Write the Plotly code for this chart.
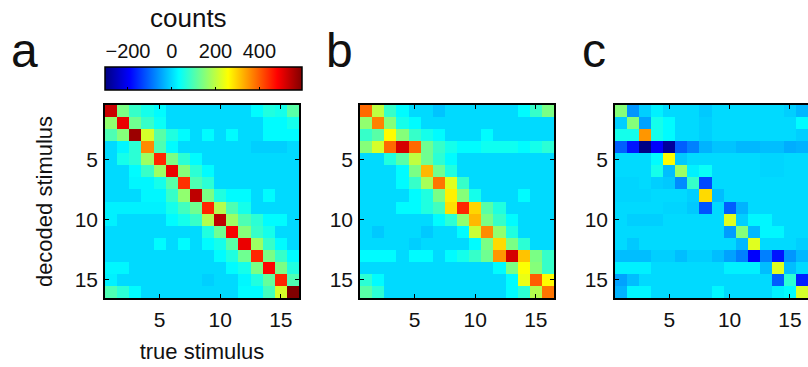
import plotly.graph_objects as go

W, H = 808, 367

stimuli = list(range(1, 17))
tick_vals = [5, 10, 15]
cbar_ticks = [-200, 0, 200, 400]
cbar_ticktext = ["\u2212200", "0", "200", "400"]
cmin, cmax = -305, 595

panel_a = [
    [530, 140, 80, 50, 30, 0, 0, 0, 0, 0, 0, 0, 30, 60, 50, 110],
    [160, 500, 130, 80, 40, 0, 0, 0, 0, 0, 0, 0, 0, 30, 30, 50],
    [100, 150, 570, 220, 110, 60, 30, 0, 30, 0, 30, 0, 0, 30, 30, 30],
    [0, 25, 70, 360, 100, 30, 0, 0, 0, 0, 0, 0, -10, -10, -10, 0],
    [0, 50, 70, 170, 450, 140, 70, 30, 0, 0, 0, 0, 0, 0, 0, 0],
    [0, 0, 30, 80, 170, 500, 150, 70, 30, 0, 0, 0, 0, 0, 0, 0],
    [0, 0, 25, 25, 50, 110, 440, 100, 70, 0, 0, 0, 0, 0, 0, 0],
    [0, 0, 0, 25, 25, 80, 160, 540, 140, 60, 30, 30, 0, 30, 0, 0],
    [20, 20, 20, 20, 20, 50, 90, 130, 450, 190, 100, 50, 0, 0, 0, 0],
    [20, 0, 0, 0, 0, 30, 50, 80, 190, 540, 170, 100, 70, 30, 30, 0],
    [0, 0, 0, 0, 0, 0, 0, 0, 60, 130, 490, 150, 80, 50, 0, 0],
    [0, 0, 0, 0, 30, 0, 30, 0, 30, 50, 110, 500, 170, 80, 30, 0],
    [0, 0, 0, 0, 0, 0, 0, 0, 0, 30, 60, 130, 450, 140, 80, 30],
    [25, 25, 0, 0, 0, 0, 0, 0, 0, 0, 30, 50, 140, 480, 140, 60],
    [20, 0, 0, 0, 0, 0, 0, 0, -10, 0, 0, 25, 60, 120, 450, 100],
    [100, 70, 30, 0, 0, 0, 0, 0, 0, 0, 0, 30, 30, 90, 220, 595],
]

panel_b = [
    [390, 200, 80, 30, 0, 0, -20, 0, 0, 0, 0, 0, 0, 30, 80, 140],
    [160, 370, 150, 50, 30, 0, 0, 0, 0, 0, 0, 0, 0, 0, 0, 0],
    [80, 110, 260, 150, 80, 50, 30, 0, 0, 0, 30, 0, 0, 0, 0, 0],
    [150, 220, 390, 520, 390, 130, 80, 50, 30, 30, 45, 45, 45, 30, 50, 70],
    [0, 0, 60, 110, 200, 130, 70, 30, 0, 0, 0, 0, 0, 0, 0, 0],
    [0, 0, 0, 30, 140, 320, 130, 60, 0, 0, 0, 0, 0, 0, 0, 0],
    [0, 0, 0, 30, 80, 180, 380, 230, 80, 0, 0, 0, 0, 0, 0, 0],
    [0, 0, 0, 0, 30, 60, 140, 270, 150, 50, 0, 0, 0, 30, 0, 0],
    [0, 0, 0, 30, 30, 60, 90, 285, 450, 295, 110, 60, 0, 0, 0, 0],
    [0, 0, 0, 0, 0, 0, 30, 70, 160, 320, 140, 80, 30, 0, 0, 0],
    [0, -15, 0, 0, 0, -15, 0, 0, 30, 210, 360, 160, 60, 0, 0, 0],
    [0, 0, 0, 0, -10, 0, 0, 0, 0, 30, 140, 290, 140, 70, 0, 0],
    [30, 30, 30, 0, 30, 30, 0, 30, 50, 80, 130, 350, 520, 310, 140, 80],
    [0, 0, 0, 0, 0, 0, 0, 0, 0, 0, 0, 30, 140, 255, 150, 80],
    [70, 30, 0, 0, 0, 0, 0, 0, 0, 0, 0, 0, 30, 240, 400, 260],
    [110, 70, 0, 0, 0, 0, 0, 0, 0, 0, 0, 0, 30, 70, 190, 380],
]

panel_c = [
    [150, -60, -10, 20, 0, 0, 0, -15, 0, 0, 0, 0, 0, 0, -10, -30],
    [-10, 150, -50, 50, 30, 0, 0, -10, 0, 0, 0, 0, 0, 0, 0, 30],
    [50, 50, 350, 50, 30, 0, 0, -10, 0, 0, 0, 0, 0, 0, 0, -10],
    [-110, -175, -300, -195, -280, -110, -80, -35, -20, -20, -30, -30, -25, -25, -40, -35],
    [0, 0, 0, 30, 260, -15, 0, 0, 0, 0, 0, 0, -5, -5, 0, 0],
    [0, 0, 0, 50, -25, 170, 20, 40, 0, 0, 0, 0, -5, -5, 0, 0],
    [-5, -5, 0, -10, -15, -70, 80, -130, 0, 0, 0, 0, 0, 0, 0, 0],
    [-5, -5, -5, 0, 0, 0, -10, 290, -25, 0, 0, 0, 0, 0, 0, 0],
    [0, 0, 0, 0, -5, -5, -15, -120, 0, -110, -35, 0, 0, 0, 0, 0],
    [0, -10, -10, -10, 0, 0, 0, 0, 0, 230, -10, 25, 25, 0, 0, 0],
    [0, 0, 0, 0, 0, 0, 0, 0, 0, -55, 150, -30, 25, 25, 0, 0],
    [0, -15, 0, 0, 0, 0, 0, 0, 0, 0, -30, 230, 0, 0, 0, -10],
    [-25, -25, -25, -10, -10, -25, -10, -10, -25, -50, -80, -195, -80, -175, -60, -30],
    [20, 20, 20, 0, 0, 0, 0, 0, 0, 20, 20, 20, -25, 230, -25, 0],
    [-50, -25, 0, 0, 0, 0, 0, 0, 0, 0, 0, 0, 0, -110, 70, -165],
    [-35, 25, 25, 0, 0, 0, 0, 0, 25, 0, 0, 0, 0, 20, 30, 220],
]

panels = [("a", panel_a), ("b", panel_b), ("c", panel_c)]

jet = [
    [0.0, "rgb(0,0,128)"],
    [0.125, "rgb(0,0,255)"],
    [0.375, "rgb(0,255,255)"],
    [0.625, "rgb(255,255,0)"],
    [0.875, "rgb(255,0,0)"],
    [1.0, "rgb(128,0,0)"],
]

FONT = "Liberation Sans, Arial, Helvetica, sans-serif"
TXT = "#111111"

def px(x):
    """pixel x -> paper fraction"""
    return min(max(x / W, 0.0), 1.0)

def py(y):
    """pixel y (from top) -> paper fraction"""
    return min(max(1 - y / H, 0.0), 1.0)

x_domains = [[px(105), px(299)], [px(360), px(554)], [px(615), 1.0]]
y_domain = [py(298), py(105)]

fig = go.Figure()

for i, (name, z) in enumerate(panels):
    sfx = "" if i == 0 else str(i + 1)
    fig.add_trace(go.Heatmap(
        z=z, x=stimuli, y=stimuli, coloraxis="coloraxis",
        xaxis="x" + sfx, yaxis="y" + sfx,
        hovertemplate="true %{x}<br>decoded %{y}<br>%{z}<extra></extra>",
    ))

axis_common = dict(
    showline=True, linecolor="black", linewidth=1.5,
    ticks="inside", ticklen=4, tickwidth=1, tickcolor="black",
    tickvals=tick_vals, showgrid=False, zeroline=False,
    tickfont=dict(family=FONT, size=21, color=TXT),
)

layout = dict(
    width=W, height=H,
    margin=dict(l=0, r=0, t=0, b=0),
    paper_bgcolor="white", plot_bgcolor="white",
    showlegend=False,
    font=dict(family=FONT, color=TXT),
    coloraxis=dict(
        colorscale=jet, cmin=cmin, cmax=cmax,
        colorbar=dict(
            orientation="h",
            x=px(105), xanchor="left",
            y=py(67), yanchor="top",
            len=197, lenmode="pixels",
            thickness=23, thicknessmode="pixels",
            xpad=0, ypad=0,
            outlinewidth=1.5, outlinecolor="black",
            ticks="inside", ticklen=3, tickcolor="black",
            tickvals=cbar_ticks, showticklabels=False,
        ),
    ),
)

for i in range(3):
    sfx = "" if i == 0 else str(i + 1)
    layout["xaxis" + sfx] = dict(
        axis_common, domain=x_domains[i], range=[0.5, 16.5],
        anchor="y" + sfx, mirror="ticks", ticklabelstandoff=2,
    )
    layout["yaxis" + sfx] = dict(
        axis_common, domain=y_domain, range=[16.5, 0.5],
        anchor="x" + sfx, mirror=("ticks" if i < 2 else False),
        ticklabelstandoff=1,
    )

layout["xaxis"]["title"] = dict(text="true stimulus", font=dict(size=22, family=FONT, color=TXT), standoff=14)
layout["yaxis"]["title"] = dict(text="decoded stimulus", font=dict(size=22, family=FONT, color=TXT), standoff=16)

# overlay axis carrying the colorbar's tick labels above the bar
layout["xaxis4"] = dict(
    domain=[px(105), px(302)], range=[cmin, cmax], anchor="y4", side="top",
    tickvals=cbar_ticks, ticktext=cbar_ticktext, ticks="",
    showline=False, showgrid=False, zeroline=False, fixedrange=True,
    tickfont=dict(family=FONT, size=20, color=TXT), ticklabelstandoff=4,
)
layout["yaxis4"] = dict(domain=[py(90), py(67)], visible=False, anchor="x4", fixedrange=True)
fig.add_trace(go.Scatter(x=[cmin, cmax], y=[0, 0], xaxis="x4", yaxis="y4",
                         mode="markers", marker=dict(opacity=0), hoverinfo="skip"))

annotations = [
    dict(text="counts", x=px(188), y=py(18), xref="paper", yref="paper",
         xanchor="center", yanchor="middle", showarrow=False,
         font=dict(family=FONT, size=26, color=TXT)),
]
letter_x = [9, 324, 580]
for (name, _), lx in zip(panels, letter_x):
    annotations.append(dict(text=name, x=px(lx), y=py(50), xref="paper", yref="paper",
                            xanchor="left", yanchor="middle", showarrow=False,
                            font=dict(family=FONT, size=48, color=TXT)))
layout["annotations"] = annotations

fig.update_layout(layout)
# remove the browser's default 8px body margin so the figure fills the window
fig.write_html("out.html", config={"displayModeBar": False},
               post_script="document.body.style.margin='0';")
